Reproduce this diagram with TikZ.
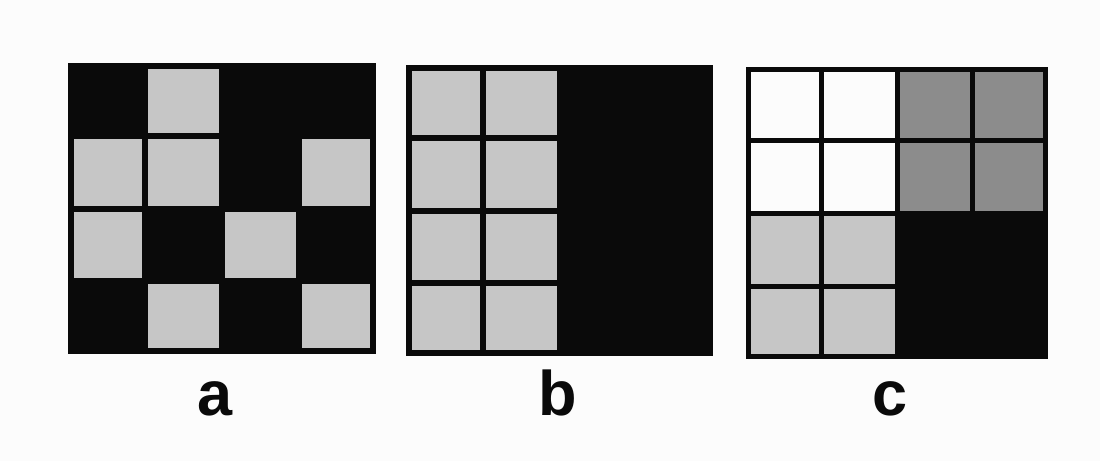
\documentclass[tikz,border=0pt]{standalone}
\usepackage{fontspec}
\setmainfont{Liberation Sans}
\definecolor{kk}{HTML}{0A0A0A}
\definecolor{lg}{HTML}{C6C6C6}
\definecolor{dg}{HTML}{8C8C8C}
\definecolor{ww}{HTML}{FCFCFC}
\definecolor{bg}{HTML}{FCFCFC}
\def\lw{6}
\tikzset{
  gridline/.style={draw=kk, line width=\lw pt},
  lbl/.style={font=\bfseries\fontsize{63}{63}\selectfont, anchor=base, text=kk, inner sep=0pt}
}
\newcommand\mygrid[4]{% x0, y0, w, h ; cells given via \cellspec
  \begin{scope}[shift={(#1,#2)}]
    \fill[kk] (0,0) rectangle (#3,#4);
    \foreach \c/\r/\cl in \cellspec
      \fill[\cl] ({\c*#3/4},{\r*#4/4}) rectangle ++({#3/4},{#4/4});
    \foreach \i in {1,2,3} {
      \draw[gridline] ({\i*#3/4},0) -- ({\i*#3/4},#4);
      \draw[gridline] (0,{\i*#4/4}) -- (#3,{\i*#4/4});
    }
    \draw[gridline] ({\lw/2},{\lw/2}) rectangle ({#3-\lw/2},{#4-\lw/2});
  \end{scope}}
\begin{document}
\begin{tikzpicture}[x=1pt,y=-1pt]
\fill[bg] (0,0) rectangle (1100,461);
\useasboundingbox (0,0) rectangle (1100,461);
% grid a
\def\cellspec{1/0/lg,0/1/lg,1/1/lg,3/1/lg,0/2/lg,2/2/lg,1/3/lg,3/3/lg}
\mygrid{68}{63}{308}{291}
% grid b
\def\cellspec{0/0/lg,1/0/lg,0/1/lg,1/1/lg,0/2/lg,1/2/lg,0/3/lg,1/3/lg}
\mygrid{406}{65}{307}{291}
% grid c
\def\lw{5}
\def\cellspec{0/0/ww,1/0/ww,0/1/ww,1/1/ww,2/0/dg,3/0/dg,2/1/dg,3/1/dg,0/2/lg,1/2/lg,0/3/lg,1/3/lg}
\mygrid{746}{67}{302}{292}
\node[lbl] (la) at (215,415) {a};
\node[lbl] (lb) at (558,415) {b};
\node[lbl] (lc) at (890,415) {c};
\end{tikzpicture}
\end{document}
